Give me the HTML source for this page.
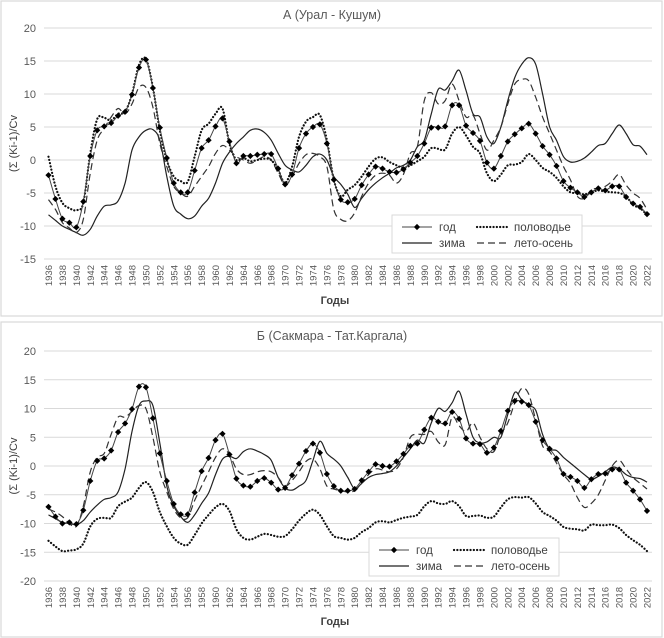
<!DOCTYPE html>
<html><head><meta charset="utf-8"><style>
body{margin:0;background:#fff;width:664px;height:638px;overflow:hidden}
svg{display:block;font-family:"Liberation Sans","DejaVu Sans",sans-serif}
</style></head><body>
<svg id="s" width="664" height="638" xmlns="http://www.w3.org/2000/svg"></svg>
<script>
const s=document.getElementById('s');let h='';
function yrsArr(m){const a=[];for(let y=1936;y<=2022;y++){a.push(m[y]!==undefined?m[y]:null);}
 for(let i=0;i<a.length;i++){if(a[i]===null){let j=i;while(a[j]===null)j++;const p=a[i-1],q=a[j];for(let k=i;k<j;k++)a[k]=p+(q-p)*(k-i+1)/(j-i+1);i=j;}}return a;}
function parse(str){const m={};str.trim().split(/,\s*/).forEach(t=>{const [y,v]=t.trim().split(/\s+/);m[+y]=+v;});return yrsArr(m);}
function smooth(pts){let d='M'+pts[0][0].toFixed(1)+','+pts[0][1].toFixed(1);
 for(let i=0;i<pts.length-1;i++){const p0=pts[Math.max(0,i-1)],p1=pts[i],p2=pts[i+1],p3=pts[Math.min(pts.length-1,i+2)];
 const c1=[p1[0]+(p2[0]-p0[0])/6,p1[1]+(p2[1]-p0[1])/6],c2=[p2[0]-(p3[0]-p1[0])/6,p2[1]-(p3[1]-p1[1])/6];
 d+='C'+c1[0].toFixed(1)+','+c1[1].toFixed(1)+' '+c2[0].toFixed(1)+','+c2[1].toFixed(1)+' '+p2[0].toFixed(1)+','+p2[1].toFixed(1);}return d;}
const DOT='stroke="#111" stroke-width="2.2" stroke-dasharray="0.1,3.2" stroke-linecap="round"';
function chart(o){
 const X=y=>48.5+(y-1936)*(647-48.5)/86, Y=v=>o.y0-v*o.ppu;
 h+=`<rect x="1" y="${o.top}" width="661" height="${o.h}" fill="#fff" stroke="#d9d9d9" stroke-width="1.2"/>`;
 h+=`<text x="332" y="${o.top+18}" font-size="12.5" fill="#595959" text-anchor="middle">${o.title}</text>`;
 for(let v=o.max;v>=o.min;v-=5){const y=Y(v);h+=`<line x1="44" x2="652" y1="${y}" y2="${y}" stroke="#d9d9d9" stroke-width="1"/>`;
  h+=`<text x="36" y="${y+4}" font-size="11" fill="#595959" text-anchor="end">${v}</text>`;}
 const ymin=Y(o.min);
 for(let yr=1936;yr<=2022;yr+=2){const x=X(yr);h+=`<text transform="translate(${x+3.5},${ymin+6}) rotate(-90)" font-size="9.5" fill="#595959" text-anchor="end">${yr}</text>`;}
 h+=`<text transform="translate(17,${(Y(o.max)+ymin)/2}) rotate(-90)" font-size="11" fill="#404040" text-anchor="middle">(Σ (Ki-1)/Cv</text>`;
 h+=`<text x="335" y="${o.top+o.h-12}" font-size="11" font-weight="bold" fill="#404040" text-anchor="middle">Годы</text>`;
 const S=o.s;const P=a=>a.map((v,i)=>[X(1936+i),Y(v)]);
 h+=`<path d="${smooth(P(S.z))}" fill="none" stroke="#222" stroke-width="1.2"/>`;
 h+=`<path d="${smooth(P(S.l))}" fill="none" stroke="#333" stroke-width="1.2" stroke-dasharray="7,4"/>`;
 h+=`<path d="${smooth(P(S.p))}" fill="none" ${DOT}/>`;
 const g=P(S.g);h+=`<path d="${smooth(g)}" fill="none" stroke="#444" stroke-width="1"/>`;
 g.forEach(p=>h+=`<rect x="${p[0]-2.2}" y="${p[1]-2.2}" width="4.4" height="4.4" fill="#000" transform="rotate(45 ${p[0]} ${p[1]})"/>`);
 const L=o.leg;h+=`<rect x="${L[0]}" y="${L[1]}" width="190" height="38" fill="#fff" stroke="#d9d9d9"/>`;
 const lx=L[0],ly=L[1];
 h+=`<line x1="${lx+10}" x2="${lx+40}" y1="${ly+12}" y2="${ly+12}" stroke="#444"/><rect x="${lx+22.8}" y="${ly+9.8}" width="4.4" height="4.4" transform="rotate(45 ${lx+25} ${ly+12})"/>`;
 h+=`<text x="${lx+47}" y="${ly+16}" font-size="11.5" fill="#404040">год</text>`;
 h+=`<line x1="${lx+85}" x2="${lx+115}" y1="${ly+12}" y2="${ly+12}" ${DOT}/>`;
 h+=`<text x="${lx+122}" y="${ly+16}" font-size="11.5" fill="#404040">половодье</text>`;
 h+=`<line x1="${lx+10}" x2="${lx+40}" y1="${ly+28}" y2="${ly+28}" stroke="#222" stroke-width="1.2"/>`;
 h+=`<text x="${lx+47}" y="${ly+32}" font-size="11.5" fill="#404040">зима</text>`;
 h+=`<line x1="${lx+85}" x2="${lx+115}" y1="${ly+28}" y2="${ly+28}" stroke="#333" stroke-width="1.2" stroke-dasharray="7,4"/>`;
 h+=`<text x="${lx+122}" y="${ly+32}" font-size="11.5" fill="#404040">лето-осень</text>`;
}
const A={
g:parse(`1936 -2.3,1937 -5.9,1938 -8.9,1939 -9.5,1940 -10.2,1941 -6.3,1942 0.6,1943 4.5,1944 5.1,1945 5.6,1946 6.7,1947 7.3,1948 9.9,1949 14,1950 15.2,1951 10.9,1952 4.9,1953 0.3,1954 -3.5,1955 -4.9,1956 -4.9,1957 -1.6,1958 1.8,1959 3.0,1960 5.1,1961 6.3,1962 2.8,1963 -0.5,1964 0.6,1965 0.6,1966 0.8,1967 0.9,1968 0.9,1969 -1.3,1970 -3.7,1971 -2.2,1972 1.8,1973 4.0,1974 5.0,1975 5.4,1976 2.5,1977 -3.0,1978 -6.0,1979 -6.4,1980 -5.9,1981 -3.8,1982 -2.2,1983 -1,1984 -1.3,1985 -1.8,1986 -1.9,1987 -1.4,1988 -0.4,1989 0.6,1990 2.5,1991 4.9,1992 4.9,1993 5.1,1994 8.3,1995 8.3,1996 5.2,1997 4.1,1998 2.9,1999 -0.4,2000 -1.3,2001 0.6,2002 2.8,2003 3.9,2004 4.8,2005 5.5,2006 4,2007 2.1,2008 0.8,2009 -0.9,2010 -3.2,2011 -4.2,2012 -4.9,2013 -5.6,2014 -4.9,2015 -4.3,2016 -4.6,2017 -4,2018 -4,2019 -5.6,2020 -6.6,2021 -7.1,2022 -8.2`),
p:parse(`1936 0.5,1937 -4,1938 -6.5,1939 -7.3,1940 -7.6,1941 -6.5,1942 1,1943 6.2,1944 6.4,1945 6,1946 7,1947 7.3,1948 10,1949 14.4,1950 15.3,1951 11,1952 4.5,1953 0,1954 -2.5,1955 -3.2,1956 -3.3,1957 0.5,1958 4.5,1959 5.5,1960 7,1961 7.8,1962 2.5,1963 0,1964 0.3,1965 -0.2,1966 0,1967 0.2,1968 0,1969 -1.5,1970 -3.5,1971 -1,1972 3.5,1973 5.8,1974 6.5,1975 6.8,1976 3,1977 -3,1978 -5.5,1979 -4.5,1980 -3.8,1981 -2.5,1982 -1,1983 0.2,1984 0.4,1985 -0.3,1986 -0.8,1987 -1.2,1988 -0.8,1989 -0.2,1990 0.5,1991 1.8,1992 1.7,1993 1.6,1994 4,1995 5,1996 3.7,1997 2,1998 1,1999 -2,2000 -3.2,2001 -2.2,2002 -0.8,2003 -0.7,2004 -0.3,2005 0.9,2006 0,2007 -1.2,2008 -1.8,2009 -2.7,2010 -4,2011 -4.9,2012 -5,2013 -5.2,2014 -4.9,2015 -4.6,2016 -4.8,2017 -4.9,2018 -5,2019 -5.5,2020 -6.8,2021 -7.3,2022 -8.3`),
z:parse(`1936 -8.3,1938 -10,1940 -11,1941 -11.4,1942 -10.5,1943 -8.5,1944 -7,1945 -6.8,1946 -6.2,1947 -3.5,1948 1.5,1949 3.5,1950 4.5,1951 4.6,1952 3,1953 -2.5,1954 -7,1955 -8.2,1956 -8.9,1957 -8.5,1958 -7,1959 -5.8,1960 -3.5,1961 -0.5,1962 1.2,1963 2.5,1964 3.5,1965 4.5,1966 4.7,1967 4.2,1968 3,1969 1,1970 -0.8,1971 -1.5,1972 -1.8,1973 -0.8,1974 0.5,1975 0.9,1976 0,1977 -2.5,1978 -3.7,1979 -5.2,1980 -7.2,1981 -5.8,1982 -4.5,1983 -3.5,1984 -2.7,1985 -2,1986 -1.2,1987 -0.8,1988 0,1989 2,1990 3,1991 7,1992 10.7,1993 10.6,1994 12,1995 13.6,1996 10.5,1997 7,1998 6.5,1999 3.5,2000 2.5,2001 5,2002 9,2003 12.5,2004 14.5,2005 15.5,2006 14.5,2007 10,2008 5,2009 3,2010 0.5,2011 -0.3,2012 -0.2,2013 0.3,2014 1.2,2015 2.2,2016 2.5,2017 4,2018 5.3,2019 4,2020 2.3,2021 2.1,2022 0.8`),
l:parse(`1936 -6,1937 -7.5,1938 -9.5,1939 -10.3,1940 -11,1941 -9,1942 -2,1943 3,1944 4.8,1945 6.5,1946 7.8,1947 7,1948 8.5,1949 11,1950 11,1951 8,1952 2.5,1953 -1,1954 -4,1955 -5,1956 -5.5,1957 -4,1958 -2.5,1959 -1,1960 1,1961 2.2,1962 1.5,1963 0.5,1964 0,1965 -0.5,1966 0,1967 0.5,1968 0,1969 -2,1970 -3.8,1971 -2.5,1972 -0.5,1973 0.8,1974 1,1975 0.5,1976 -1,1977 -7.5,1978 -9,1979 -9.2,1980 -8,1981 -5.5,1982 -3.5,1983 -2.3,1984 -2,1985 -2.3,1986 -3.5,1987 -2.2,1988 1,1989 2,1990 9,1991 10.2,1992 8.5,1993 9,1994 11.5,1995 9,1996 6.5,1997 6.8,1998 4,1999 1.5,2000 3,2001 5,2002 8.5,2003 11.5,2004 12.2,2005 12,2006 9.5,2007 6.5,2008 4,2009 1.5,2010 -1,2011 -3,2012 -5.5,2013 -5.8,2014 -4.5,2015 -4.3,2016 -4,2017 -3.2,2018 -2.2,2019 -3.8,2020 -5,2021 -5.8,2022 -7.5`)};
const B={
g:parse(`1936 -7.1,1937 -8.8,1938 -10,1939 -9.8,1940 -10.1,1941 -7.7,1942 -2.6,1943 0.9,1944 1.3,1945 2.7,1946 5.9,1947 7.4,1948 9.9,1949 13.8,1950 13.7,1951 8.3,1952 2.2,1953 -2.6,1954 -6.6,1955 -8.4,1956 -8.4,1957 -4.6,1958 -0.9,1959 1.4,1960 4.5,1961 5.6,1962 2,1963 -2.2,1964 -3.4,1965 -3.6,1966 -2.6,1967 -2.1,1968 -2.9,1969 -4.1,1970 -3.8,1971 -1.6,1972 0.4,1973 2.6,1974 3.9,1975 2.3,1976 -1.4,1977 -3.5,1978 -4.3,1979 -4.3,1980 -4,1981 -2.5,1982 -1,1983 0.3,1984 0,1985 -0.1,1986 0.8,1987 2.1,1988 3.5,1989 3.9,1990 6.3,1991 8.4,1992 7.7,1993 7.4,1994 9.4,1995 8.2,1996 4.8,1997 3.9,1998 3.8,1999 2.3,2000 3.2,2001 6.1,2002 9.6,2003 11.3,2004 11.2,2005 10.6,2006 7.7,2007 4.5,2008 3,2009 1.3,2010 -1.4,2011 -1.9,2012 -2.6,2013 -3.8,2014 -2.3,2015 -1.4,2016 -1.3,2017 -0.6,2018 -0.6,2019 -2.9,2020 -4.3,2021 -5.8,2022 -7.8`),
p:parse(`1936 -13,1937 -14,1938 -14.8,1939 -14.7,1940 -14.5,1941 -13.5,1942 -10.5,1943 -9.2,1944 -9,1945 -9,1946 -7,1947 -6.2,1948 -5.5,1949 -3.8,1950 -2.8,1951 -4.5,1952 -8,1953 -10.5,1954 -12.5,1955 -13.5,1956 -13.7,1957 -12,1958 -10,1959 -8.5,1960 -7.2,1961 -6.6,1962 -7.8,1963 -11,1964 -12.5,1965 -12.8,1966 -12.3,1967 -11.8,1968 -12,1969 -12.3,1970 -12.2,1971 -11,1972 -9.5,1973 -8.3,1974 -7.6,1975 -8.5,1976 -10.5,1977 -12.2,1978 -12.5,1979 -12.8,1980 -12.5,1981 -11.5,1982 -10.8,1983 -9.8,1984 -9.6,1985 -9.8,1986 -9.4,1987 -9,1988 -8.8,1989 -8.5,1990 -7,1991 -6.1,1992 -6.5,1993 -6.6,1994 -6.1,1995 -7,1996 -8.7,1997 -8.7,1998 -8.6,1999 -9,2000 -8.8,2001 -7.2,2002 -5.8,2003 -5.4,2004 -5.5,2005 -5.4,2006 -6.5,2007 -8,2008 -8.7,2009 -9.5,2010 -10.6,2011 -10.9,2012 -11,2013 -11.2,2014 -10.2,2015 -10.3,2016 -10.3,2017 -10.2,2018 -10.8,2019 -12,2020 -12.9,2021 -13.7,2022 -14.8`),
z:parse(`1936 -8.5,1938 -9.8,1940 -10.2,1941 -9.5,1942 -8,1943 -6.8,1944 -5.8,1945 -5.5,1946 -4.5,1947 -0.5,1948 6,1949 10.5,1950 11.3,1951 10.5,1952 4,1953 -3.5,1954 -7,1955 -8.8,1956 -9.8,1957 -8.5,1958 -6.5,1959 -4.7,1960 -1.5,1961 1.2,1962 1.7,1963 1.3,1964 2.5,1965 3,1966 2.6,1967 2,1968 1,1969 -2,1970 -3.8,1971 -4.2,1972 -3.5,1973 -2.5,1974 1,1975 4.3,1976 2.2,1977 1.2,1978 0,1979 -2,1980 -4,1981 -3,1982 -2,1983 -1.5,1984 -1.3,1985 -1,1986 0,1987 1.5,1988 3,1989 4.5,1990 4,1991 7.5,1992 10,1993 9.5,1994 11,1995 13,1996 9,1997 5,1998 4,1999 4.2,2000 5,2001 5,2002 9,2003 12.8,2004 11.5,2005 10.5,2006 9.7,2007 5.5,2008 3,2009 2.7,2010 1.5,2011 0.5,2012 -0.5,2013 -1.5,2014 -2.3,2015 -1.8,2016 -1,2017 -0.2,2018 -0.5,2019 -1.5,2020 -2,2021 -2.2,2022 -2.8`),
l:parse(`1936 -7.5,1937 -8,1938 -8.8,1939 -10,1940 -10.5,1941 -7,1942 -1,1943 1.5,1944 2.2,1945 5.5,1946 8.5,1947 8.5,1948 9.5,1949 10.5,1950 10,1951 5,1952 -1,1953 -4.5,1954 -7.5,1955 -9,1956 -9,1957 -6,1958 -3.5,1959 -1,1960 1.5,1961 3,1962 2,1963 -0.5,1964 -1.5,1965 -1.5,1966 -1,1967 -0.8,1968 -1,1969 -2,1970 -3.5,1971 -2.5,1972 -1,1973 0.8,1974 1.2,1975 -0.5,1976 -3.5,1977 -4,1978 -4.3,1979 -4.5,1980 -4.3,1981 -3,1982 -1.5,1983 -0.5,1984 -0.7,1985 -1,1986 -0.5,1987 1.5,1988 5,1989 5.5,1990 5.5,1991 6,1992 4.2,1993 3.7,1994 8.5,1995 7,1996 6,1997 7.5,1998 5,1999 3,2000 2.5,2001 5.5,2002 7.5,2003 11,2004 13.5,2005 12.5,2006 8,2007 3.5,2008 2.5,2009 0.5,2010 -1.5,2011 -3,2012 -5.5,2013 -7.2,2014 -6.5,2015 -5,2016 -2.5,2017 0,2018 1,2019 -0.5,2020 -2,2021 -3,2022 -4`)};
chart({top:1,h:315,title:'А (Урал - Кушум)',y0:160,ppu:6.6,max:20,min:-15,s:A,leg:[392,215]});
chart({top:322,h:315,title:'Б (Сакмара - Тат.Каргала)',y0:466,ppu:5.75,max:20,min:-20,s:B,leg:[369,538]});
s.innerHTML=h;
</script>
</body></html>
